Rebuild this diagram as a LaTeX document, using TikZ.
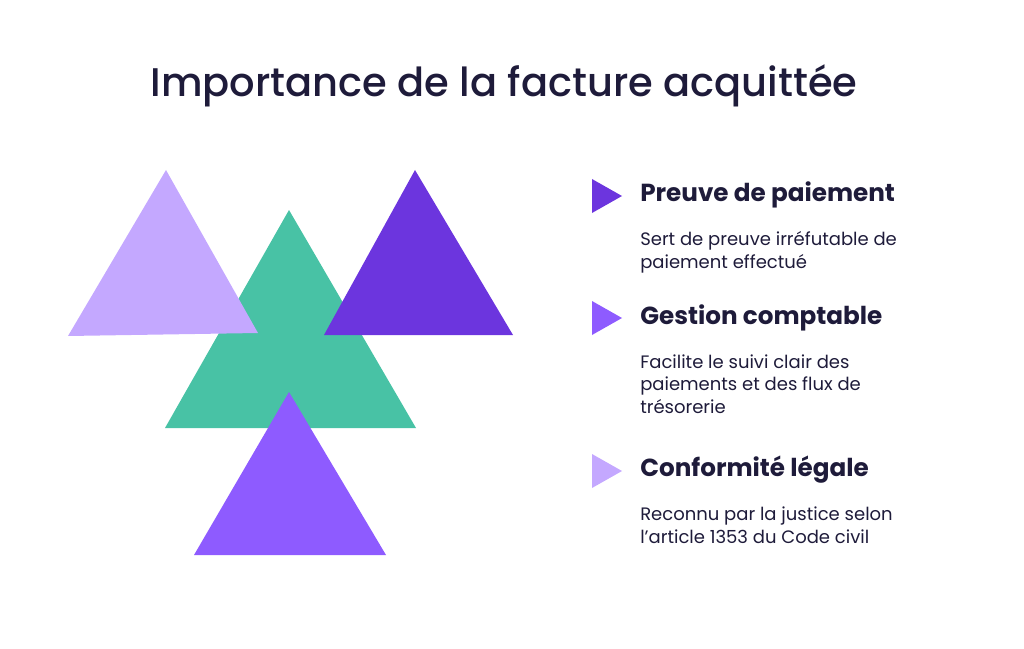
\documentclass[tikz,border=0pt]{standalone}
\usepackage{fontspec}
\setmainfont{Poppins}
\newfontfamily\titlefont{Poppins Medium}
\definecolor{inkcolor}{RGB}{30,27,58}
\definecolor{lavender}{RGB}{196,168,255}
\definecolor{mint}{RGB}{72,194,165}
\definecolor{violet}{RGB}{108,53,222}
\definecolor{purple}{RGB}{142,91,255}
\usetikzlibrary{positioning}
\tikzstyle{heading}=[anchor=west,inner sep=0pt,font=\fontsize{18.5}{22}\selectfont\bfseries,text=inkcolor]
\tikzstyle{body}=[anchor=north west,inner sep=0pt,align=left,font=\fontsize{13.5}{17}\selectfont,text=inkcolor]

\begin{document}
\begin{tikzpicture}[x=0.75pt,y=-0.75pt]
\useasboundingbox (0,0) rectangle (1024,649);

	% Title
    \node[font=\titlefont\fontsize{30}{34}\selectfont,text=inkcolor] (title) at (504,86) {Importance de la facture acquittée};

	% Triangles
    \fill[mint] (289,210) -- (416,428) -- (165,428) -- cycle;
    \fill[lavender] (166,170) -- (258,333) -- (68,336) -- cycle;
    \fill[violet] (415,170) -- (513,335) -- (324,335) -- cycle;
    \fill[purple] (289,392) -- (386,555) -- (194,555) -- cycle;

	% Markers
    \foreach \y / \col in {196/violet, 318/purple, 471/lavender}
        \fill[\col] (592,\y-17) -- (622,\y) -- (592,\y+17) -- cycle;

	% Items
    \node[heading] (H-1) at (640,195) {Preuve de paiement};
    \node[body, below=17pt of H-1.south west, anchor=north west] (B-1) {Sert de preuve irréfutable de\\paiement effectué};
    \node[heading] (H-2) at (640,318) {Gestion comptable};
    \node[body, below=17pt of H-2.south west, anchor=north west] (B-2) {Facilite le suivi clair des\\paiements et des flux de\\trésorerie};
    \node[heading] (H-3) at (640,470) {Conformité légale};
    \node[body, below=17pt of H-3.south west, anchor=north west] (B-3) {Reconnu par la justice selon\\l\char"27 article 1353 du Code civil};

\end{tikzpicture}
\end{document}
